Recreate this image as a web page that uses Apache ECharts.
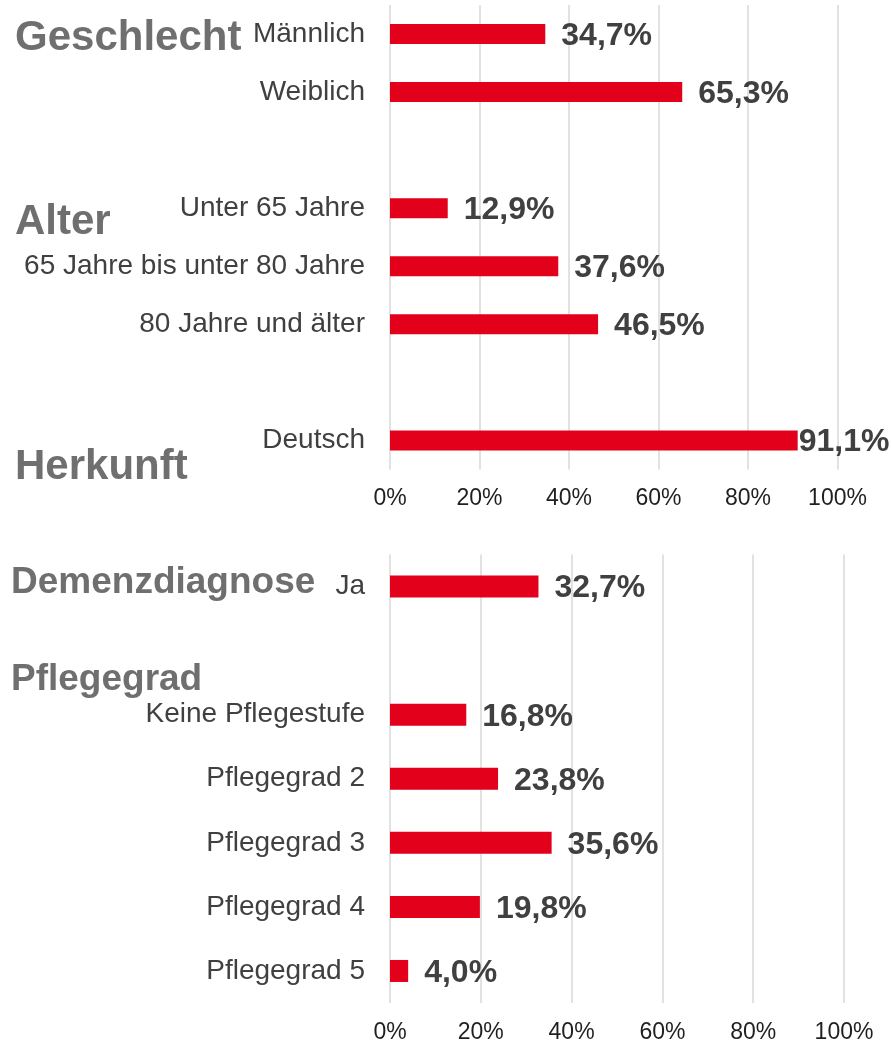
<!DOCTYPE html>
<html>
<head>
<meta charset="utf-8">
<script src="https://cdn.jsdelivr.net/npm/echarts@6/dist/echarts.min.js"></script>
<style>
  html, body { margin: 0; padding: 0; background: #fff; }
  #chart { width: 891px; height: 1044px; }
</style>
</head>
<body>
<div id="chart"></div>
<script>
// obere Grafik: Geschlecht / Alter / Herkunft (leere Kategorien = Abstand)
const topCategories = ['Männlich', 'Weiblich', '', 'Unter 65 Jahre', '65 Jahre bis unter 80 Jahre', '80 Jahre und älter', '', 'Deutsch']
const topValues = [34.7, 65.3, null, 12.9, 37.6, 46.5, null, 91.1]

// untere Grafik: Demenzdiagnose / Pflegegrad
const bottomCategories = ['Ja', '', 'Keine Pflegestufe', 'Pflegegrad 2', 'Pflegegrad 3', 'Pflegegrad 4', 'Pflegegrad 5']
const bottomValues = [32.7, null, 16.8, 23.8, 35.6, 19.8, 4.0]

const xTicks = [0, 20, 40, 60, 80, 100]

const RED = '#e3001b'
const FONT = '"Liberation Sans", Arial, sans-serif'
const HEAD = '#6f6f6f'

const fmtPct = v => v.toFixed(1).replace('.', ',') + '%'

const xAxisOf = (gridIndex) => ({
  type: 'value',
  gridIndex,
  min: xTicks[0],
  max: xTicks[xTicks.length - 1],
  interval: xTicks[1] - xTicks[0],
  axisLine: { show: false },
  axisTick: { show: false },
  splitLine: { show: true, lineStyle: { color: '#d9d9d9', width: 1.5 } },
  axisLabel: {
    formatter: '{value}%',
    fontFamily: FONT,
    fontSize: 23,
    color: '#1f1f1f',
    margin: 18
  }
})

const yAxisOf = (gridIndex, data) => ({
  type: 'category',
  gridIndex,
  inverse: true,
  data,
  axisLine: { show: false },
  axisTick: { show: false },
  axisLabel: {
    fontFamily: FONT,
    fontSize: 28,
    color: '#404040',
    margin: 25,
    padding: [4, 0, 0, 0]
  }
})

const barLabel = {
  show: true,
  position: 'right',
  distance: 16,
  offset: [0, 2],
  fontFamily: FONT,
  fontSize: 32,
  fontWeight: 'bold',
  color: '#404040',
  formatter: p => fmtPct(p.value)
}

// letzter Balken oben: Beschriftung direkt am Balkenende
const topData = topValues.map((v, i) =>
  i === topValues.length - 1 ? { value: v, label: { distance: 1 } } : v
)

const heading = (text, x, y, size) => ({
  type: 'text',
  x,
  y,
  style: {
    text,
    font: `bold ${size}px ${FONT}`,
    fill: HEAD,
    verticalAlign: 'middle'
  }
})

const chart = echarts.init(document.getElementById('chart'))
chart.setOption({
  animation: false,
  backgroundColor: '#fff',
  grid: [
    { left: 390, width: 447.5, top: 5, height: 464.5 },
    { left: 390, width: 454, top: 554.5, height: 450.5 }
  ],
  xAxis: [xAxisOf(0), xAxisOf(1)],
  yAxis: [yAxisOf(0, topCategories), yAxisOf(1, bottomCategories)],
  series: [
    {
      type: 'bar',
      xAxisIndex: 0,
      yAxisIndex: 0,
      barWidth: 20,
      itemStyle: { color: RED },
      label: barLabel,
      data: topData
    },
    {
      type: 'bar',
      xAxisIndex: 1,
      yAxisIndex: 1,
      barWidth: 22,
      itemStyle: { color: RED },
      label: barLabel,
      data: bottomValues
    }
  ],
  graphic: [
    heading('Geschlecht', 15, 38, 42),
    heading('Alter', 15, 222, 42),
    heading('Herkunft', 15, 467, 42),
    heading('Demenzdiagnose', 11, 583, 37),
    heading('Pflegegrad', 11, 680, 37)
  ]
})
</script>
</body>
</html>
